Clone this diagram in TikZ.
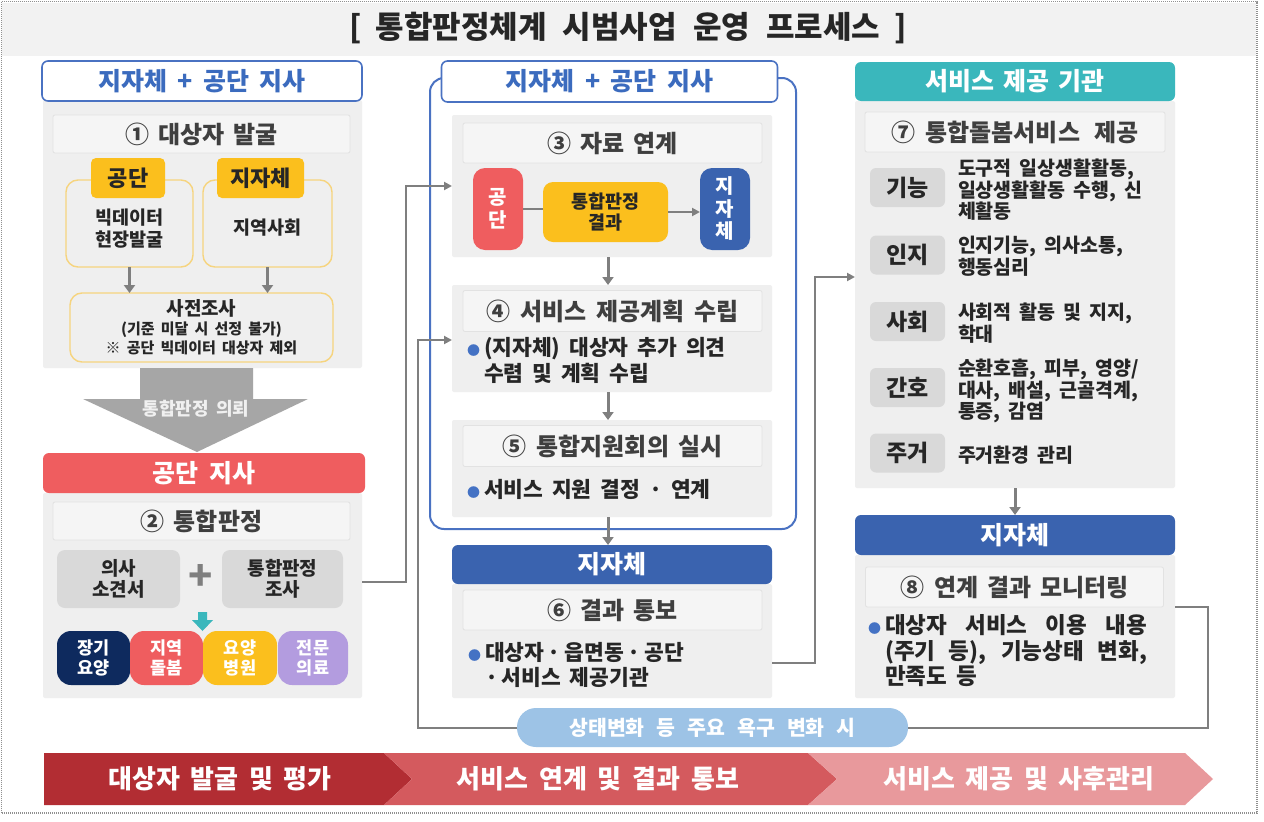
\documentclass[tikz,border=0pt]{standalone}
\usepackage{fontspec}
\setmainfont{Noto Sans CJK KR}[WordSpace=1.8]
\usetikzlibrary{arrows.meta}
\definecolor{pgray}{HTML}{EFEFEF}
\definecolor{tgray}{HTML}{F5F5F5}
\definecolor{tborder}{HTML}{E2E2E2}
\definecolor{ttext}{HTML}{3F3F3F}
\definecolor{dtext}{HTML}{262626}
\definecolor{hblue}{HTML}{4A72C2}
\definecolor{tblue}{HTML}{3B6BBE}
\definecolor{cblue}{HTML}{3A63AF}
\definecolor{cred}{HTML}{EF5D5F}
\definecolor{gold}{HTML}{FBBF1D}
\definecolor{yborder}{HTML}{F6D47E}
\definecolor{gtwo}{HTML}{D9D9D9}
\definecolor{cgray}{HTML}{7F7F7F}
\definecolor{biggray}{HTML}{A6A6A6}
\definecolor{cteal}{HTML}{3AB7BC}
\definecolor{cnavy}{HTML}{0E2A5E}
\definecolor{clav}{HTML}{B39CDF}
\definecolor{lblue}{HTML}{9DC3E6}
\definecolor{bblue}{HTML}{4472C4}
\definecolor{chone}{HTML}{B22D33}
\definecolor{chtwo}{HTML}{D45A5E}
\definecolor{chthree}{HTML}{E8999C}
\definecolor{titlebg}{HTML}{F2F2F2}
\definecolor{framegray}{HTML}{909090}
\newcommand\bul{\textcolor{bblue}{\fontsize{13}{13}\selectfont ●}\hspace{4pt}}
\newcommand\bulph{\phantom{\bul}}
\newcommand\wsp{\hspace{9pt}}
\tikzset{
  every node/.style={inner sep=0pt, outer sep=0pt},
  panel/.style={fill=pgray, rounded corners=2pt},
  ttl/.style={fill=tgray, draw=tborder, line width=0.8pt, rounded corners=2pt, text=ttext, font=\fontsize{24}{27}\selectfont\bfseries},
  hdr/.style={rounded corners=6pt, text=white, font=\fontsize{25}{28}\selectfont\bfseries},
  whdr/.style={fill=white, draw=hblue, line width=1.6pt, rounded corners=6pt, text=tblue, font=\fontsize{25}{28}\selectfont\bfseries},
  ybox/.style={fill=pgray, draw=yborder, line width=1.4pt, rounded corners=12pt},
  tagbox/.style={fill=gold, rounded corners=5pt, minimum height=40pt, font=\fontsize{22}{26}\selectfont\bfseries, text=dtext},
  stxt/.style={align=center, font=\fontsize{18.5}{22}\selectfont\bfseries, text=dtext},
  gbox/.style={fill=gtwo, rounded corners=8pt, minimum height=58pt, font=\fontsize{19}{21.5}\selectfont\bfseries, text=dtext, align=center},
  pillbox/.style={rounded corners=14pt, minimum height=54pt, text=white, font=\fontsize{17.5}{20.5}\selectfont\bfseries, align=center},
  vpill/.style={rounded corners=12pt, minimum width=50pt, minimum height=82pt, text=white, font=\fontsize{20}{22.5}\selectfont\bfseries, align=center},
  lab/.style={fill=gtwo, rounded corners=6pt, minimum width=75pt, minimum height=39pt, font=\fontsize{23}{26}\selectfont\bfseries, text=dtext},
  desc/.style={anchor=west, align=left, font=\fontsize{19.5}{21.5}\selectfont\bfseries, text=dtext},
  btxt/.style={anchor=west, align=left, font=\fontsize{21.5}{26}\selectfont\bfseries, text=dtext},
  conn/.style={draw=cgray, line width=2pt},
  conarrow/.style={-{Triangle[length=8pt,width=8pt]}},
  darr/.style={draw=cgray, line width=3pt, -{Triangle[length=8pt,width=11pt]}},
  chtext/.style={text=white, font=\fontsize{26}{30}\selectfont\bfseries}
}
\begin{document}
\begin{tikzpicture}[x=1pt,y=-1pt]
\useasboundingbox (0,0) rectangle (1264,822);
\fill[white] (0,0) rectangle (1264,822);
\fill[titlebg] (2,3) rectangle (1256,56);
\draw[framegray, line width=1.2pt, dash pattern=on 1pt off 1pt] (1.5,1.5) rectangle (1257,813);
\node[font=\fontsize{31}{34}\selectfont\bfseries, text=black!85] (title) at (628,28) {[\hspace{14pt}통합판정체계\hspace{16pt}시범사업\hspace{16pt}운영\hspace{16pt}프로세스\hspace{14pt}]};

% ---------------- left column
\node[panel, minimum width=319pt, minimum height=268pt] (pL1) at (202.5,234) {};
\node[whdr, minimum width=320pt, minimum height=40pt] (hL) at (202,81) {지자체 + 공단 지사};
\node[ttl, minimum width=297pt, minimum height=38pt] (t1) at (201.5,134) {①\wsp 대상자\wsp 발굴};
\node[ybox, minimum width=127pt, minimum height=87pt] (bA) at (129.5,223.5) {};
\node[ybox, minimum width=129pt, minimum height=87pt] (bB) at (267.5,223.5) {};
\node[tagbox, minimum width=74pt] (tA) at (128,178) {공단};
\node[tagbox, minimum width=87pt] (tB) at (260.5,178) {지자체};
\node[stxt] (bAt) at (129.5,229) {빅데이터\\현장발굴};
\node[stxt] (bBt) at (267.5,228) {지역사회};
\node[ybox, minimum width=263pt, minimum height=69pt, align=center, text=dtext, font=\fontsize{15}{19}\selectfont\bfseries] (pre) at (201.5,327.5) {{\fontsize{19}{19}\selectfont 사전조사}\\(기준 미달 시 선정 불가)\\※ 공단 빅데이터 대상자 제외};
\draw[darr] (bA.south) -- (bA.south |- pre.north);
\draw[darr] (bB.south) -- (bB.south |- pre.north);

\fill[biggray] (140,368) -- (253,368) -- (253,399) -- (308,399) -- (197,452) -- (83,399) -- (140,399) -- cycle;
\node[text=white!88!gray, font=\fontsize{18}{20}\selectfont\bfseries] (refer) at (196,409) {통합판정 의뢰};

\node[panel, minimum width=319pt, minimum height=205pt] (pL2) at (202.5,595.5) {};
\node[hdr, fill=cred, minimum width=322pt, minimum height=40pt] (hL2) at (204,473) {공단 지사};
\node[ttl, minimum width=297pt, minimum height=38pt] (t2) at (201.5,521) {②\wsp 통합판정};
\node[gbox, minimum width=123pt] (op) at (118.5,579) {의사\\소견서};
\node[gbox, minimum width=121pt] (sv) at (282.5,579) {통합판정\\조사};
\node[text=cgray, font=\fontsize{40}{40}\selectfont\bfseries] (plus) at (201,577) {+};
\fill[cteal] (198,612) -- (207,612) -- (207,620) -- (213,620) -- (202.5,631) -- (192,620) -- (198,620) -- cycle;
\node[pillbox, fill=cnavy, minimum width=73pt] (p1) at (93.5,658) {장기\\요양};
\node[pillbox, fill=cred, minimum width=73pt] (p2) at (166.5,658) {지역\\돌봄};
\node[pillbox, fill=gold, minimum width=74pt] (p3b) at (240,658) {요양\\병원};
\node[pillbox, fill=clav, minimum width=70pt] (p4b) at (313,658) {전문\\의료};

% ---------------- middle column
\node[draw=hblue, line width=2pt, rounded corners=14pt, minimum width=366pt, minimum height=451pt] (outerM) at (613,303.5) {};
\node[whdr, minimum width=336pt, minimum height=41pt] (hM) at (609.5,81.5) {지자체 + 공단 지사};
\node[panel, minimum width=320pt, minimum height=142pt] (s3) at (612,186) {};
\node[ttl, minimum width=299pt, minimum height=40pt] (t3) at (612.5,143) {③\wsp 자료\wsp 연계};
\node[vpill, fill=cred] (gd) at (498,209) {공\\단};
\node[fill=gold, rounded corners=10pt, minimum width=125pt, minimum height=60pt, font=\fontsize{18.5}{21.5}\selectfont\bfseries, align=center, text=dtext] (res) at (605.5,212) {통합판정\\결과};
\node[vpill, fill=cblue] (jj) at (725,209) {지\\자\\체};
\draw[conn] (gd.east) -- (gd.east -| res.west);
\draw[conn, conarrow] (res.east) -- (res.east -| jj.west);

\node[panel, minimum width=320pt, minimum height=107pt] (s4) at (612,338.5) {};
\node[ttl, minimum width=299pt, minimum height=41pt] (t4) at (612.5,311) {④ 서비스 제공계획 수립};
\node[btxt] (b4) at (467,360) {\bul(지자체) 대상자 추가 의견\\\bulph 수렴 및 계획 수립};
\draw[darr] ([xshift=-4pt]s3.south) -- ([xshift=-4pt]s4.north);

\node[panel, minimum width=320pt, minimum height=97pt] (s5) at (612,468.5) {};
\node[ttl, minimum width=299pt, minimum height=41pt] (t5) at (612.5,446) {⑤ 통합지원회의\wsp 실시};
\node[btxt] (b5) at (467,489) {\bul 서비스 지원 결정 · 연계};
\draw[darr] ([xshift=-4pt]s4.south) -- ([xshift=-4pt]s5.north);

\node[panel, minimum width=320pt, minimum height=114pt] (s6) at (612,641) {};
\node[hdr, fill=cblue, minimum width=320pt, minimum height=39pt] (hM2) at (612,564.5) {지자체};
\node[ttl, minimum width=299pt, minimum height=40pt] (t6) at (612.5,610) {⑥\wsp 결과\wsp 통보};
\node[btxt, font=\fontsize{21.5}{25}\selectfont\bfseries] (b6) at (468,665) {\bul 대상자\,·\,읍면동\,·\,공단\\\bulph ·\,서비스 제공기관};
\draw[darr] ([xshift=-4pt]s5.south) -- ([xshift=-4pt]hM2.north);

\node[fill=lblue, rounded corners=19pt, minimum width=391pt, minimum height=39pt, text=white, font=\fontsize{20.5}{22}\selectfont\bfseries] (loop) at (712.5,727.5) {상태변화\hspace{12pt}등\hspace{12pt}주요\hspace{12pt}욕구\hspace{12pt}변화\hspace{12pt}시};

% ---------------- right column
\node[panel, minimum width=320pt, minimum height=387pt] (s7) at (1015,294.5) {};
\node[hdr, fill=cteal, minimum width=320pt, minimum height=39pt] (hR) at (1015,81.5) {서비스\wsp 제공\wsp 기관};
\node[ttl, minimum width=300pt, minimum height=40pt] (t7) at (1015,132) {⑦ 통합돌봄서비스\hspace{14pt}제공};
\node[lab] (l1) at (907.5,187.5) {기능};
\node[lab] (l2) at (907.5,255) {인지};
\node[lab] (l3) at (907.5,321.5) {사회};
\node[lab] (l4) at (907.5,387.5) {간호};
\node[lab] (l5) at (907.5,453) {주거};
\node[desc] (d1) at (958,190) {도구적 일상생활활동,\\일상생활활동 수행, 신\\체활동};
\node[desc] (d2) at (958,256) {인지기능, 의사소통,\\행동심리};
\node[desc] (d3) at (958,323) {사회적 활동 및 지지,\\학대};
\node[desc] (d4) at (958,391) {순환호흡, 피부, 영양/\\대사, 배설, 근골격계,\\통증, 감염};
\node[desc] (d5) at (958,455) {주거환경 관리};

\node[panel, minimum width=320pt, minimum height=143pt] (s8) at (1015,626.5) {};
\node[hdr, fill=cblue, minimum width=320pt, minimum height=40pt] (hR2) at (1015,535) {지자체};
\node[ttl, minimum width=298pt, minimum height=40pt] (t8) at (1014.5,587) {⑧ 연계\wsp 결과\wsp 모니터링};
\node[btxt, font=\fontsize{22.5}{25.5}\selectfont\bfseries] (b8) at (868,651) {\bul\makebox[262pt][s]{대상자 서비스 이용 내용}\\\bulph\makebox[262pt][s]{(주기 등), 기능상태 변화,}\\\bulph 만족도 등};
\draw[darr] (s7.south) -- (hR2.north);

% ---------------- connectors
\draw[conn, conarrow] ([yshift=13.5pt]pL2.east) -- ++(44,0) |- (s3.west);
\draw[conn, conarrow] ([yshift=-22pt]s6.east) -- ++(43,0) |- ([yshift=17.5pt]s7.west);
\draw[conn] ([yshift=19.5pt]s8.east) -- ++(33,0) |- (loop.east);
\draw[conn, conarrow] (loop.west) -- ++(-99,0) |- ([yshift=-1.5pt]s4.west);

% ---------------- bottom chevrons
\fill[chone] (44,753) -- (384,753) -- (412,779) -- (384,805) -- (44,805) -- cycle;
\fill[chtwo] (384,753) -- (808,753) -- (837,779) -- (808,805) -- (384,805) -- (412,779) -- cycle;
\fill[chthree] (808,753) -- (1185,753) -- (1213,779) -- (1185,805) -- (808,805) -- (837,779) -- cycle;
\node[chtext] (c1) at (220,779) {대상자 발굴 및 평가};
\node[chtext] (c2) at (598,779) {서비스 연계 및 결과 통보};
\node[chtext] (c3) at (1019,779) {서비스 제공 및 사후관리};
\end{tikzpicture}
\end{document}
